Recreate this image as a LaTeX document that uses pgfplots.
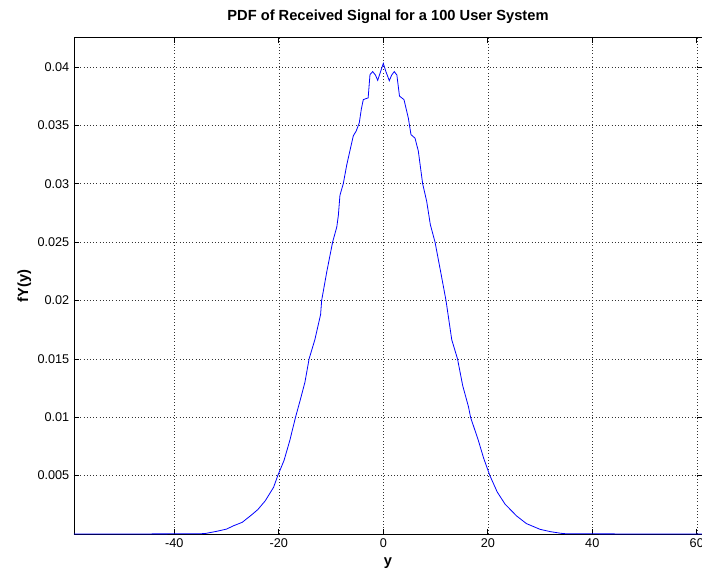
\documentclass[border=0pt]{standalone}
\usepackage{fontspec}
\setmainfont{Liberation Sans}
\usepackage{pgfplots}
\pgfplotsset{compat=1.18}
\usetikzlibrary{calc}

\begin{document}
\begin{tikzpicture}
\begin{axis}[
scale only axis,
width=471pt,height=372.2pt,
xmin=-59.2,xmax=61,ymin=0,ymax=0.0425,
xtick={-40,-20,0,20,40,60},
ytick={0.005,0.01,0.015,0.02,0.025,0.03,0.035,0.04},
scaled y ticks=false,
yticklabel style={/pgf/number format/fixed,/pgf/number format/precision=3},
/pgf/number format/assume math mode=true,
tick label style={font=\fontsize{9.5}{11}\selectfont},
tick align=inside,
major tick length=4pt,
grid=major,
major grid style={black!80,dotted,line width=0.35pt},
axis line style={black,line width=0.6pt},
tick style={black,line width=0.5pt},
title={\bfseries PDF of Received Signal for a 100 User System},
title style={font=\fontsize{11}{13}\selectfont,yshift=1pt},
xlabel={\bfseries y},
ylabel={\bfseries fY(y)},
label style={font=\fontsize{11}{13}\selectfont},
xlabel style={yshift=-1pt},
ylabel style={yshift=-2pt},
]
\coordinate (sw) at (rel axis cs:0,0);
\coordinate (ne) at (rel axis cs:1,1);
\addplot[blue,line width=0.6pt] coordinates {
(-59.2,0) (-44.2,0) (-44.2,0.00001) (-35,0.00002) (-34,0.00005) (-32,0.00022)
(-30,0.00042) (-28.7,0.00070) (-27,0.00100) (-25.2,0.00164) (-24,0.0021)
(-22.6,0.00284) (-21,0.0040) (-20.2,0.0050) (-19,0.0063) (-17.9,0.0080)
(-16.8,0.0100) (-15.9,0.01147) (-15,0.0130) (-14.2,0.0150) (-13.1,0.01664)
(-12,0.0188) (-11.8,0.0200) (-10.8,0.0225) (-9.7,0.0250) (-8.9,0.0263)
(-8.6,0.0273) (-8.3,0.0290) (-7.66,0.0300) (-7.0,0.0316) (-6.4,0.0328)
(-5.74,0.0341) (-5.2,0.0345) (-4.6,0.0352) (-4.2,0.0364) (-3.83,0.0372)
(-2.9,0.03735) (-2.55,0.03934) (-2.03,0.0396) (-1.5,0.0393) (-1.07,0.03885)
(-0.6,0.0395) (0,0.0403) (0.5,0.0396) (1.15,0.03882) (1.6,0.0393)
(2.1,0.0396) (2.6,0.0393) (3.1,0.0375) (3.96,0.0372) (4.8,0.0356)
(5.3,0.0342) (6.07,0.0339) (6.7,0.0328) (7.53,0.0300) (8.3,0.0285)
(9.0,0.0265) (9.9,0.0250) (11,0.0224) (12.0,0.0200) (13.1,0.01664)
(14.2,0.0150) (15.2,0.0127) (16.3,0.0109) (16.7,0.0100) (18.2,0.0080)
(19.2,0.0065) (20.4,0.0050) (21.8,0.0036) (23.3,0.00256) (25.5,0.00155)
(27.4,0.00089) (30,0.00040) (32,0.00020) (34,0.00006) (35,0.00002)
(44.2,0.00001) (44.2,0) (61,0)};
\end{axis}
\pgfresetboundingbox
\path[use as bounding box] ($(sw)+(-55.5pt,-30.5pt)$) rectangle ($(ne)+(0pt,28.3pt)$);
\end{tikzpicture}
\end{document}
